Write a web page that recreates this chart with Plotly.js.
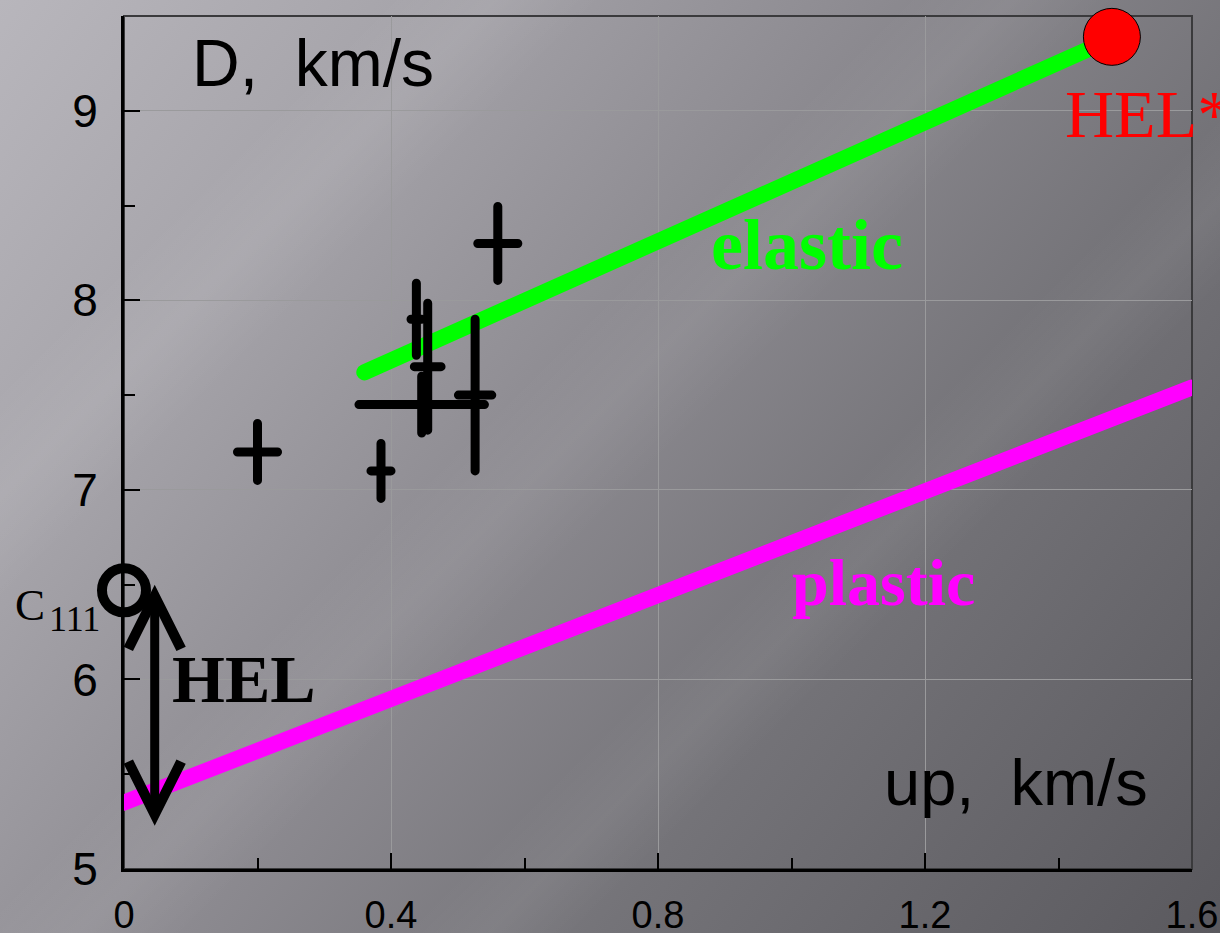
<!DOCTYPE html>
<html>
<head>
<meta charset="utf-8">
<script src="https://cdn.plot.ly/plotly-3.0.1.min.js"></script>
<style>
html, body { margin: 0; padding: 0; }
#chart {
  width: 1220px; height: 933px;
  background:
    linear-gradient(135deg, rgba(255,255,255,0) 18%, rgba(255,255,255,0.07) 23%, rgba(255,255,255,0) 28%,
                    rgba(255,255,255,0) 42%, rgba(255,255,255,0.06) 47%, rgba(255,255,255,0) 52%,
                    rgba(255,255,255,0) 62%, rgba(255,255,255,0.05) 66%, rgba(255,255,255,0) 70%),
    linear-gradient(127deg, #b8b6bc 0%, #a6a4aa 22%, #8d8b91 45%, #747378 68%, #5a595e 100%);
}
#chart .js-line { stroke-linecap: round; }
#chart path.xerror, #chart path.yerror { stroke-linecap: round; }
</style>
</head>
<body>
<div id="chart"></div>
<script>
// ---- data ----
const elasticU = [0.36, 1.48];
const elasticD = [7.62, 9.38];
const plasticU = [0.0, 1.6];
const plasticD = [5.35, 7.54];

const expU    = [0.20, 0.385, 0.438, 0.455, 0.446, 0.526, 0.56];
const expD    = [7.20, 7.10, 7.90, 7.65, 7.45, 7.50, 8.30];
const expErrU = [0.03, 0.015, 0.008, 0.02, 0.094, 0.025, 0.03];
const expErrD = [0.15, 0.145, 0.19, 0.335, 0.15, 0.40, 0.195];

const helStarU = [1.48];
const helStarD = [9.39];
const c111U = [0.0];
const c111D = [6.47];

const helArrowU = 0.046;
const helArrowTop = 6.5;
const helArrowBottom = 5.22;

const xTickVals = [0, 0.4, 0.8, 1.2, 1.6];
const xTickText = ['0', '0.4', '0.8', '1.2', '1.6'];
const xMinorVals = [0.2, 0.6, 1.0, 1.4];
const yTickVals = [5, 6, 7, 8, 9];
const yTickText = ['5', '6', '7', '8', '9'];
const yMinorVals = [5.5, 6.5, 7.5, 8.5, 9.5];

// ---- traces ----
const traces = [
  { x: plasticU, y: plasticD, mode: 'lines', line: { color: '#ff00ff', width: 16 }, cliponaxis: false, hoverinfo: 'skip' },
  { x: elasticU, y: elasticD, mode: 'lines', line: { color: '#00ff00', width: 16 }, cliponaxis: false, hoverinfo: 'skip' },
  { x: expU, y: expD, mode: 'markers', marker: { size: 1, color: 'rgba(0,0,0,0)' },
    error_x: { type: 'data', array: expErrU, visible: true, color: '#000', thickness: 9, width: 0 },
    error_y: { type: 'data', array: expErrD, visible: true, color: '#000', thickness: 9, width: 0 },
    cliponaxis: false, hoverinfo: 'skip' },
  { x: helStarU, y: helStarD, mode: 'markers', marker: { size: 57, color: '#ff0000', line: { color: '#000', width: 1 } }, cliponaxis: false, hoverinfo: 'skip' },
  { x: c111U, y: c111D, mode: 'markers', marker: { symbol: 'circle-open', size: 44, color: '#000', line: { color: '#000', width: 10 } }, cliponaxis: false, hoverinfo: 'skip' }
];

const sans = 'Liberation Sans, Arial, sans-serif';
const serif = 'Liberation Serif, Times New Roman, serif';

const annotations = [
  { x: 0.099, y: 9.25, xref: 'x', yref: 'y', xanchor: 'left', yanchor: 'middle', showarrow: false,
    text: 'D,  km/s', font: { family: sans, size: 66, color: '#000' } },
  { x: 1.136, y: 5.454, xref: 'x', yref: 'y', xanchor: 'left', yanchor: 'middle', showarrow: false,
    text: 'up,  km/s', font: { family: sans, size: 65, color: '#000' } },
  { x: 0.876, y: 8.293, xref: 'x', yref: 'y', xanchor: 'left', yanchor: 'middle', showarrow: false,
    text: '<b>elastic</b>', font: { family: serif, size: 72, color: '#00ff00' } },
  { x: 0.998, y: 6.511, xref: 'x', yref: 'y', xanchor: 'left', yanchor: 'middle', showarrow: false,
    text: '<b>plastic</b>', font: { family: serif, size: 66, color: '#ff00ff' } },
  { x: 1.407, y: 8.984, xref: 'x', yref: 'y', xanchor: 'left', yanchor: 'middle', showarrow: false,
    text: 'HEL*', font: { family: serif, size: 68, color: '#ff0000' } },
  { x: 0.069, y: 6.003, xref: 'x', yref: 'y', xanchor: 'left', yanchor: 'middle', showarrow: false,
    text: '<b>HEL</b>', font: { family: serif, size: 68, color: '#000' } },
  { x: -0.1039, y: 6.393, xref: 'paper', yref: 'y', xanchor: 'left', yanchor: 'middle', showarrow: false,
    text: 'C', font: { family: serif, size: 45, color: '#000' } },
  { x: -0.0721, y: 6.319, xref: 'paper', yref: 'y', xanchor: 'left', yanchor: 'middle', showarrow: false,
    text: '111', font: { family: serif, size: 36, color: '#000' } },
  { x: helArrowU, y: helArrowTop, ax: helArrowU, ay: helArrowBottom, xref: 'x', yref: 'y', axref: 'x', ayref: 'y',
    text: '', showarrow: true, arrowside: 'end+start', arrowhead: 5, startarrowhead: 5,
    arrowsize: 1.15, startarrowsize: 1.15, arrowwidth: 9, arrowcolor: '#000', standoff: 0, startstandoff: 0 }
];

const layout = {
  width: 1220, height: 933,
  margin: { l: 124, r: 28, t: 16, b: 64 },
  paper_bgcolor: 'rgba(0,0,0,0)',
  plot_bgcolor: 'rgba(0,0,0,0)',
  showlegend: false,
  xaxis: {
    range: [0, 1.6], tickmode: 'array', tickvals: xTickVals, ticktext: xTickText,
    ticks: 'inside', ticklen: 16, tickwidth: 2, tickcolor: '#000',
    minor: { tickmode: 'array', tickvals: xMinorVals, ticks: 'inside', ticklen: 11, tickwidth: 2, tickcolor: '#000', showgrid: false },
    showgrid: true, gridcolor: '#9a9a9c', gridwidth: 1, zeroline: false,
    showline: true, linecolor: '#000', linewidth: 3,
    tickfont: { family: sans, size: 38, color: '#000' }, ticklabelstandoff: 10, fixedrange: true
  },
  yaxis: {
    range: [5, 9.5], tickmode: 'array', tickvals: yTickVals, ticktext: yTickText,
    ticks: 'inside', ticklen: 16, tickwidth: 2, tickcolor: '#000',
    minor: { tickmode: 'array', tickvals: yMinorVals, ticks: 'inside', ticklen: 11, tickwidth: 2, tickcolor: '#000', showgrid: false },
    showgrid: true, gridcolor: '#9a9a9c', gridwidth: 1, zeroline: false,
    showline: true, linecolor: '#000', linewidth: 3,
    tickfont: { family: sans, size: 46, color: '#000' }, ticklabelstandoff: 14, fixedrange: true
  },
  shapes: [
    { type: 'rect', xref: 'paper', yref: 'paper', x0: 0, x1: 1, y0: 0, y1: 1,
      line: { color: '#3a3a3c', width: 2 }, layer: 'below' }
  ],
  annotations: annotations
};

Plotly.newPlot('chart', traces, layout, { displayModeBar: false, staticPlot: true });
</script>
</body>
</html>
